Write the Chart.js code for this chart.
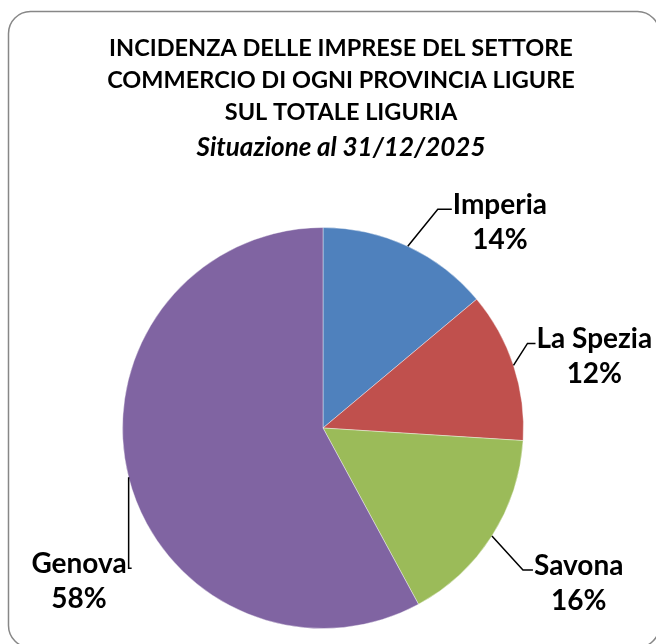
<!DOCTYPE html>
<html>
<head>
<meta charset="utf-8">
<script src="https://cdn.jsdelivr.net/npm/chart.js@4.4.1/dist/chart.umd.min.js"></script>
<style>
  html, body { margin: 0; padding: 0; background: #fff; }
  #wrap { width: 656px; height: 644px; position: relative; }
</style>
</head>
<body>
<div id="wrap"><canvas id="myChart" width="656" height="644"></canvas></div>
<script>
// dati
var province = ["Imperia", "La Spezia", "Savona", "Genova"];
var quote = [13.9, 12.1, 16.1, 57.9];
var colori = ["#4F81BD", "#C0504D", "#9BBB59", "#8064A2"];
var titolo = [
    "INCIDENZA DELLE IMPRESE DEL SETTORE",
    "COMMERCIO DI OGNI PROVINCIA LIGURE",
    "SUL TOTALE LIGURIA"
];
var sottotitolo = "Situazione al 31/12/2025";

// posizione delle etichette (gomito della linea rispetto al bordo della fetta)
var gomiti = [
    { dx: 30, dy: -37, coda: 14, lato: "right" },
    { dx: 14, dy: -22, coda: 8, lato: "right" },
    { dx: 31, dy: 34, coda: 10, lato: "right" },
    { dx: 0, dy: 91, coda: 3, lato: "left" }
];

var fontTesto = "Lato, 'Open Sans', sans-serif";

var cornice = {
    id: "cornice",
    beforeDraw: function (chart) {
        var c = chart.ctx;
        c.save();
        c.fillStyle = "#fff";
        c.fillRect(0, 0, chart.width, chart.height);
        var x = 8.5, y = 11.5, w = 651, h = 636, r = 22;
        c.beginPath();
        c.moveTo(x + r, y);
        c.lineTo(x + w - r, y);
        c.arcTo(x + w, y, x + w, y + r, r);
        c.lineTo(x + w, y + h - r);
        c.arcTo(x + w, y + h, x + w - r, y + h, r);
        c.lineTo(x + r, y + h);
        c.arcTo(x, y + h, x, y + h - r, r);
        c.lineTo(x, y + r);
        c.arcTo(x, y, x + r, y, r);
        c.closePath();
        c.strokeStyle = "#878787";
        c.lineWidth = 1.5;
        c.stroke();
        c.restore();
    },
    afterDraw: function (chart) {
        var c = chart.ctx;
        c.save();
        c.fillStyle = "#000";
        c.textAlign = "center";
        c.textBaseline = "middle";
        c.font = "bold 23.5px " + fontTesto;
        for (var i = 0; i < titolo.length; i++) {
            c.fillText(titolo[i], 341, 48 + i * 32);
        }
        c.font = "italic bold 26px " + fontTesto;
        c.fillText(sottotitolo, 341, 148);
        c.restore();
    }
};

var etichette = {
    id: "etichette",
    afterDatasetsDraw: function (chart) {
        var c = chart.ctx;
        var meta = chart.getDatasetMeta(0);
        var tot = quote.reduce(function (a, b) { return a + b; }, 0);
        c.save();
        c.font = "bold 28px " + fontTesto;
        c.fillStyle = "#000";
        c.strokeStyle = "#000";
        c.lineWidth = 1.5;
        meta.data.forEach(function (arco, i) {
            var p = arco.getProps(["x", "y", "startAngle", "endAngle", "outerRadius"], true);
            var a = (p.startAngle + p.endAngle) / 2;
            var ax = p.x + Math.cos(a) * p.outerRadius;
            var ay = p.y + Math.sin(a) * p.outerRadius;
            var g = gomiti[i];
            var gx = ax + g.dx, gy = ay + g.dy;
            var fx = gx + g.coda;
            c.beginPath();
            c.moveTo(ax, ay);
            c.lineTo(gx, gy);
            c.lineTo(fx, gy);
            c.stroke();

            var nome = province[i];
            var perc = Math.round(quote[i] / tot * 100) + "%";
            var larg = Math.max(c.measureText(nome).width, c.measureText(perc).width);
            var cx = g.lato === "right" ? fx + 1 + larg / 2 : gx - 2 - larg / 2;
            c.textAlign = "center";
            c.textBaseline = "alphabetic";
            c.fillText(nome, cx, gy + 5);
            c.fillText(perc, cx, gy + 40);
        });
        c.restore();
    }
};

var ctx = document.getElementById("myChart").getContext("2d");
var grafico = new Chart(ctx, {
    type: "pie",
    data: {
        labels: province,
        datasets: [{
            data: quote,
            backgroundColor: colori,
            borderColor: "rgba(255,255,255,0.4)",
            borderWidth: 1
        }]
    },
    options: {
        responsive: false,
        animation: false,
        layout: { padding: { top: 227, bottom: 15, left: 122, right: 132 } },
        plugins: {
            legend: { display: false },
            title: { display: false },
            tooltip: { enabled: false }
        }
    },
    plugins: [cornice, etichette]
});
</script>
</body>
</html>
